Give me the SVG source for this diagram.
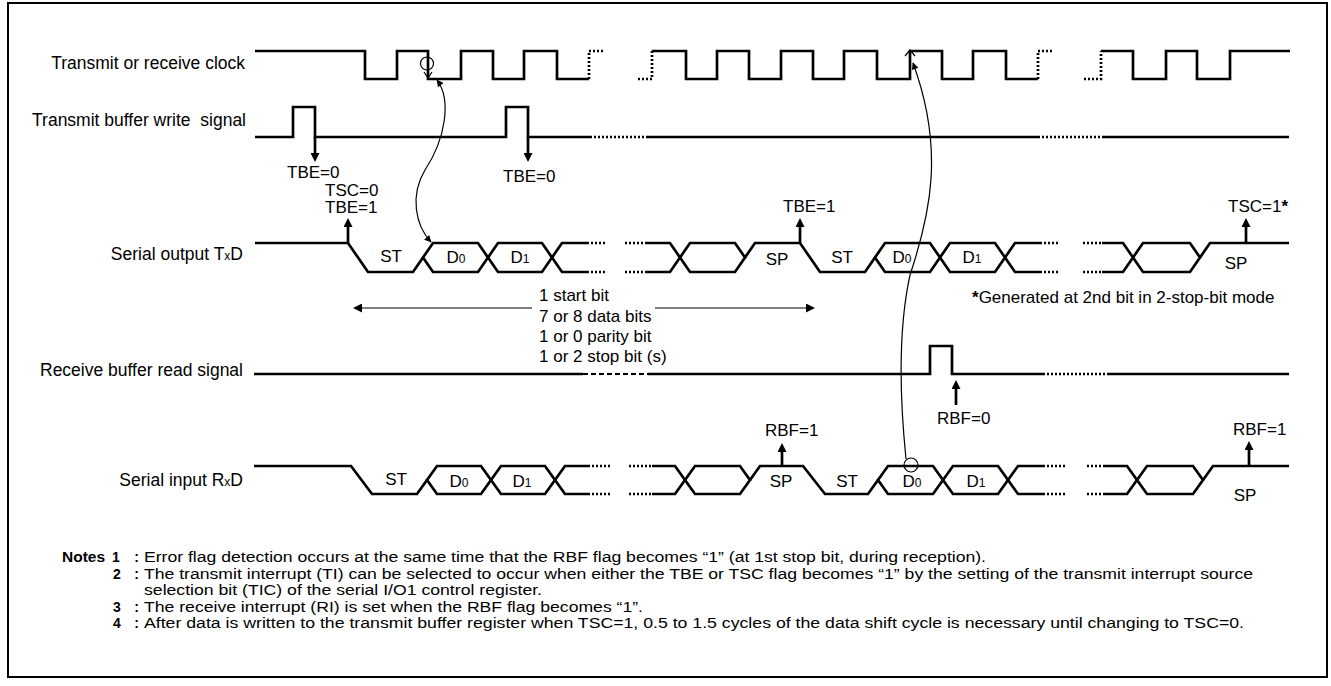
<svg xmlns="http://www.w3.org/2000/svg" width="1331" height="686" viewBox="0 0 1331 686">
<style>
.sig{fill:none;stroke:#000;stroke-width:2.7;stroke-linejoin:miter}
.dot{fill:none;stroke:#000;stroke-width:2.7;stroke-dasharray:2 2}
.dash{fill:none;stroke:#000;stroke-width:2;stroke-dasharray:5 3}
.thin{fill:none;stroke:#000;stroke-width:1.2}
.arw{fill:none;stroke:#000;stroke-width:2.7}
text{font-family:"Liberation Sans",Arial,sans-serif;font-size:17px;fill:#000}
.lbl{font-size:17.5px}
.sub{font-size:12px}
.note{font-size:14px}
.nb{font-size:14px;font-weight:bold}
</style>
<defs>
<marker id="ah" viewBox="0 0 10 10" refX="0" refY="5" markerWidth="10" markerHeight="9" markerUnits="userSpaceOnUse" orient="auto"><path d="M0,0 L10,5 L0,10 z" fill="#000"/></marker>
<marker id="ch" viewBox="0 0 10 10" refX="9" refY="5" markerWidth="11" markerHeight="7" markerUnits="userSpaceOnUse" orient="auto-start-reverse"><path d="M0,0 L10,5 L0,10 z" fill="#000"/></marker>
</defs>
<rect x="8" y="3" width="1319" height="674" fill="#fff" stroke="#000" stroke-width="2"/>

<g id="clock">
<text class="lbl" x="245" y="69" text-anchor="end">Transmit or receive clock</text>
<path class="sig" d="M255,51 H365 V79 H397 V51 H428 V79 H461 V51 H493 V79 H524 V51 H557 V79 H589"/>
<path class="dot" d="M589,79 V51 H603"/>
<path class="dot" d="M638,79 H652 V51"/>
<path class="sig" d="M652,51 H686 V79 H717 V51 H749 V79 H781 V51 H813 V79 H844 V51 H877 V79 H910 V51 H942 V79 H973 V51 H1006 V79 H1038"/>
<path class="dot" d="M1038,79 V51 H1053"/>
<path class="dot" d="M1084,79 H1101 V51"/>
<path class="sig" d="M1101,51 H1133 V79 H1166 V51 H1197 V79 H1230 V51 H1290"/>
</g>

<g id="tbw">
<text class="lbl" x="246" y="126" text-anchor="end" xml:space="preserve">Transmit buffer write  signal</text>
<path class="sig" d="M255,137 H293 V107 H315 V137 H506 V107 H528 V137 H590"/>
<path class="dot" d="M590,137 H648"/>
<path class="sig" d="M648,137 H1038"/>
<path class="dot" d="M1038,137 H1102"/>
<path class="sig" d="M1102,137 H1289"/>
<text x="287" y="178">TBE=0</text>
<text x="503" y="182">TBE=0</text>
</g>

<g id="txd">
<text class="lbl" x="243" y="260" text-anchor="end">Serial output T<tspan class="sub">x</tspan>D</text>
<path class="sig" d="M255,243 H348 L368,272 H413 L423,257.5"/>
<path class="sig" d="M423,257.5 L433,243 H478 L488,257.5 L478,272 H433 Z"/>
<path class="sig" d="M488,257.5 L498,243 H542 L552,257.5 L542,272 H498 Z"/>
<path class="sig" d="M587,243 H562 L552,257.5 L562,272 H587"/>
<path class="dot" d="M587,243 H607 M587,272 H607 M625,243 H647 M625,272 H647"/>
<path class="sig" d="M647,243 H670 L680,257.5 L670,272 H647"/>
<path class="sig" d="M680,257.5 L690,243 H735 L745,257.5 L735,272 H690 Z"/>
<path class="sig" d="M745,257.5 L755,243 H800 L820,272 H865 L875,257.5"/>
<path class="sig" d="M875,257.5 L885,243 H930 L940,257.5 L930,272 H885 Z"/>
<path class="sig" d="M940,257.5 L950,243 H995 L1005,257.5 L995,272 H950 Z"/>
<path class="sig" d="M1040,243 H1015 L1005,257.5 L1015,272 H1040"/>
<path class="dot" d="M1040,243 H1060 M1040,272 H1060 M1083,243 H1102 M1083,272 H1102"/>
<path class="sig" d="M1102,243 H1123 L1133,257.5 L1123,272 H1102"/>
<path class="sig" d="M1133,257.5 L1143,243 H1190 L1200,257.5 L1190,272 H1143 Z"/>
<path class="sig" d="M1200,257.5 L1210,243 H1289"/>
<text x="391" y="262" text-anchor="middle">ST</text>
<text x="456" y="263" text-anchor="middle">D<tspan class="sub">0</tspan></text>
<text x="520" y="263" text-anchor="middle">D<tspan class="sub">1</tspan></text>
<text x="777" y="265" text-anchor="middle">SP</text>
<text x="842" y="263" text-anchor="middle">ST</text>
<text x="902" y="263" text-anchor="middle">D<tspan class="sub">0</tspan></text>
<text x="972" y="263" text-anchor="middle">D<tspan class="sub">1</tspan></text>
<text x="1236" y="269" text-anchor="middle">SP</text>
<text x="325" y="196">TSC=0</text>
<text x="325" y="213">TBE=1</text>
<text x="783" y="212">TBE=1</text>
<text x="1228" y="212">TSC=1<tspan font-weight="bold">*</tspan></text>
<text x="972" y="303"><tspan font-weight="bold">*</tspan>Generated at 2nd bit in 2-stop-bit mode</text>
</g>

<g id="frame-length">
<text x="539" y="301">1 start bit</text>
<text x="539" y="322">7 or 8 data bits</text>
<text x="539" y="342">1 or 0 parity bit</text>
<text x="539" y="362">1 or 2 stop bit (s)</text>
</g>

<g id="rbr">
<text class="lbl" x="243" y="376" text-anchor="end">Receive buffer read signal</text>
<path class="sig" d="M254,374 H583"/>
<path class="dash" d="M583,374 H648"/>
<path class="sig" d="M648,374 H930 V346 H952 V374 H1043"/>
<path class="dot" d="M1043,374 H1109"/>
<path class="sig" d="M1109,374 H1289"/>
<text x="937" y="424">RBF=0</text>
</g>

<g id="rxd">
<text class="lbl" x="243" y="486" text-anchor="end">Serial input R<tspan class="sub">x</tspan>D</text>
<path class="sig" d="M254,466 H351 L372,494 H417 L427,480"/>
<path class="sig" d="M427,480 L437,466 H481 L491,480 L481,494 H437 Z"/>
<path class="sig" d="M491,480 L501,466 H545 L555,480 L545,494 H501 Z"/>
<path class="sig" d="M588,466 H565 L555,480 L565,494 H588"/>
<path class="dot" d="M588,466 H612 M588,494 H612 M629,466 H652 M629,494 H652"/>
<path class="sig" d="M652,466 H675 L685,480 L675,494 H652"/>
<path class="sig" d="M685,480 L695,466 H740 L750,480 L740,494 H695 Z"/>
<path class="sig" d="M750,480 L760,466 H803 L825,494 H868 L878,480"/>
<path class="sig" d="M878,480 L888,466 H933 L943,480 L933,494 H888 Z"/>
<path class="sig" d="M943,480 L953,466 H998 L1008,480 L998,494 H953 Z"/>
<path class="sig" d="M1043,466 H1018 L1008,480 L1018,494 H1043"/>
<path class="dot" d="M1043,466 H1065 M1043,494 H1065 M1087,466 H1105 M1087,494 H1105"/>
<path class="sig" d="M1105,466 H1127 L1137,480 L1127,494 H1105"/>
<path class="sig" d="M1137,480 L1147,466 H1193 L1203,480 L1193,494 H1147 Z"/>
<path class="sig" d="M1203,480 L1213,466 H1289"/>
<text x="396" y="485" text-anchor="middle">ST</text>
<text x="459" y="487" text-anchor="middle">D<tspan class="sub">0</tspan></text>
<text x="522" y="487" text-anchor="middle">D<tspan class="sub">1</tspan></text>
<text x="781" y="487" text-anchor="middle">SP</text>
<text x="847" y="487" text-anchor="middle">ST</text>
<text x="912" y="487" text-anchor="middle">D<tspan class="sub">0</tspan></text>
<text x="976" y="487" text-anchor="middle">D<tspan class="sub">1</tspan></text>
<text x="1245" y="501" text-anchor="middle">SP</text>
<text x="765" y="436">RBF=1</text>
<text x="1233" y="435">RBF=1</text>
</g>

<g id="connectors">
<line class="arw" x1="315" y1="137" x2="315" y2="153" marker-end="url(#ah)"/>
<line class="arw" x1="528" y1="137" x2="528" y2="153" marker-end="url(#ah)"/>
<line class="arw" x1="348" y1="243" x2="348" y2="227" marker-end="url(#ah)"/>
<line class="arw" x1="800" y1="243" x2="800" y2="227" marker-end="url(#ah)"/>
<line class="arw" x1="1246" y1="243" x2="1246" y2="227" marker-end="url(#ah)"/>
<line class="arw" x1="956" y1="405" x2="956" y2="389" marker-end="url(#ah)"/>
<line class="arw" x1="782" y1="466" x2="782" y2="452" marker-end="url(#ah)"/>
<line class="arw" x1="1249" y1="466" x2="1249" y2="450" marker-end="url(#ah)"/>
<line class="thin" x1="532" y1="308" x2="362" y2="308" stroke-width="2" marker-end="url(#ah)"/>
<line class="thin" x1="655" y1="308" x2="806" y2="308" stroke-width="2" marker-end="url(#ah)"/>
<circle class="thin" cx="427" cy="63.5" r="6.5"/>
<path class="thin" d="M424,72 L428,78 L432,72"/>
<path class="thin" d="M437,80 C452,100 445,140 425,170 C410,195 415,225 431,242" marker-start="url(#ch)" marker-end="url(#ch)"/>
<circle class="thin" cx="911" cy="465" r="7"/>
<path class="thin" d="M905,56 L910,50 L915,56"/>
<path class="thin" d="M906,459 C900,400 898,330 910,275 C930,215 945,150 913,63" marker-end="url(#ch)"/>
</g>

<g id="notes">
<text class="nb" x="62" y="562" textLength="43" lengthAdjust="spacingAndGlyphs">Notes</text>
<text class="nb" x="112" y="562" textLength="27" lengthAdjust="spacing">1 :</text>
<text class="note" x="144" y="562" textLength="842" lengthAdjust="spacingAndGlyphs">Error flag detection occurs at the same time that the RBF flag becomes “1” (at 1st stop bit, during reception).</text>
<text class="nb" x="113" y="579" textLength="26" lengthAdjust="spacing">2 :</text>
<text class="note" x="144" y="579" textLength="1109" lengthAdjust="spacingAndGlyphs">The transmit interrupt (TI) can be selected to occur when either the TBE or TSC flag becomes “1” by the setting of the transmit interrupt source</text>
<text class="note" x="144" y="595" textLength="398" lengthAdjust="spacingAndGlyphs">selection bit (TIC) of the serial I/O1 control register.</text>
<text class="nb" x="113" y="612" textLength="26" lengthAdjust="spacing">3 :</text>
<text class="note" x="144" y="612" textLength="499" lengthAdjust="spacingAndGlyphs">The receive interrupt (RI) is set when the RBF flag becomes “1”.</text>
<text class="nb" x="113" y="628" textLength="26" lengthAdjust="spacing">4 :</text>
<text class="note" x="144" y="628" textLength="1100" lengthAdjust="spacingAndGlyphs">After data is written to the transmit buffer register when TSC=1, 0.5 to 1.5 cycles of the data shift cycle is necessary until changing to TSC=0.</text>
</g>
</svg>
